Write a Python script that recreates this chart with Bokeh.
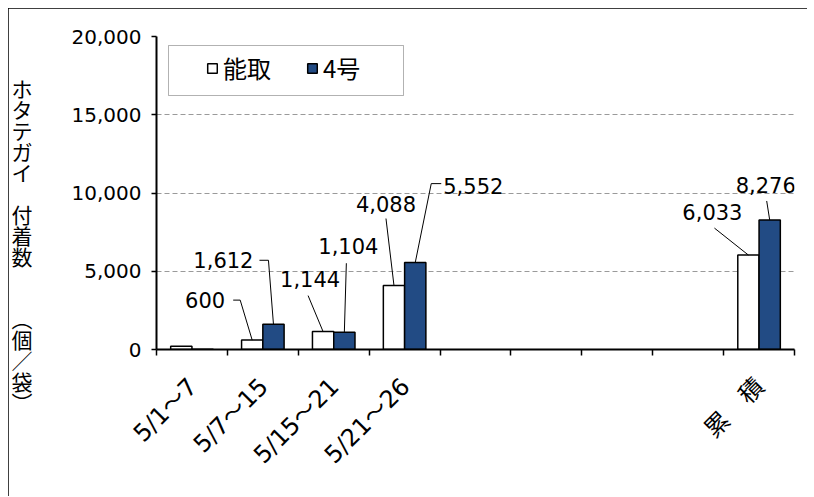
import math
import numpy as np
from bokeh.plotting import figure
from bokeh.models import (ColumnDataSource, FixedTicker, NumeralTickFormatter, Range1d,
                          Legend, LegendItem, BoxAnnotation)
from bokeh.core.properties import value
from bokeh.embed import file_html
from bokeh.resources import INLINE

# ---------------- data ----------------
categories = ["5/1～7", "5/7～15", "5/15～21", "5/21～26", "", "", "", "", "累　積"]
notori = [201, 600, 1144, 4088, None, None, None, None, 6033]   # 能取
gou4 = [8, 1612, 1104, 5552, None, None, None, None, 8276]      # 4号
series_names = ["能取", "4号"]
y_ticks = [0, 5000, 10000, 15000, 20000]
y_max = 20000
y_axis_title = ["ホ", "タ", "テ", "ガ", "イ", "　", "付", "着", "数", "　", "　", "︵", "個", "／", "袋", "︶"]

# ---------------- layout ----------------
FRAME_W, FRAME_H = 638, 313
N = len(categories)
PX_X = FRAME_W / N
PX_Y = FRAME_H / y_max
BAR_W = 0.3
NUM_FONT = "DejaVu Sans"
JP_FONT = "Noto Sans CJK JP"
BLUE = "#224B84"
TITLE_PAD_LINES = 5
XLABEL_SHIFT_PX = 1

# data-label placement (pixel offsets from bar top centre)
label_layout = {
    (0, 1): dict(dx=-27, dy=-40, align="right", leader=[(-19, -40), (-12, -40), (0, 0)]),
    (1, 1): dict(dx=-20, dy=-64, align="right", leader=[(-14, -64), (-5, -64), (0, 0)]),
    (0, 2): dict(dx=-13, dy=-53, align="center", leader=[(-15, -36), (0, 0)]),
    (1, 2): dict(dx=4, dy=-86, align="center", leader=[(2, -69), (0, 0)]),
    (0, 3): dict(dx=-8, dy=-82, align="center", leader=[(-8, -67), (0, 0)]),
    (1, 3): dict(dx=28, dy=-77, align="left", leader=[(26, -79), (16, -79), (0, 0)]),
    (0, 8): dict(dx=-36, dy=-43, align="center", leader=[(-34, -27), (0, 0)]),
    (1, 8): dict(dx=-4, dy=-35, align="center", leader=[(-3, -19), (0, 0)]),
}

p = figure(frame_width=FRAME_W, frame_height=FRAME_H,
           x_range=Range1d(0, N), y_range=Range1d(0, y_max),
           output_backend="svg", toolbar_location=None,
           min_border_left=147, min_border_right=13, min_border_top=28, min_border_bottom=148)
p.margin = (8, 0, 0, 8)
p.styles = {"outline": "1px solid #000", "outline-offset": "-1px", "clip-path": "inset(0 0 1px 0)"}
p.outline_line_color = None
p.background_fill_color = "white"
p.border_fill_color = "white"

centers = np.arange(N) + 0.5
series = [notori, gou4]
fills = ["white", BLUE]
offsets = [-BAR_W / 2, BAR_W / 2]

renderers = []
for s, vals in enumerate(series):
    idx = [i for i, v in enumerate(vals) if v is not None]
    src = ColumnDataSource(dict(x=[centers[i] + offsets[s] for i in idx],
                                top=[vals[i] for i in idx]))
    r = p.vbar(x="x", top="top", bottom=0, width=BAR_W, source=src,
               fill_color=fills[s], line_color="black", line_width=1.5)
    renderers.append(r)

# data labels + leader lines
tx, ty, tt, txo, tyo, tal = [], [], [], [], [], []
lxs, lys = [], []
for (s, i), lay in label_layout.items():
    v = series[s][i]
    bx = centers[i] + offsets[s]
    tx.append(bx); ty.append(v); tt.append(f"{v:,}")
    txo.append(lay["dx"]); tyo.append(lay["dy"]); tal.append(lay["align"])
    lxs.append([bx + ox / PX_X for ox, oy in lay["leader"]])
    lys.append([v - oy / PX_Y for ox, oy in lay["leader"]])

p.multi_line(xs=lxs, ys=lys, line_color="black", line_width=1)
tsrc = ColumnDataSource(dict(x=tx, y=ty, text=tt, xo=txo, yo=tyo, align=tal))
p.text(x="x", y="y", text="text", x_offset="xo", y_offset="yo", text_align="align",
       text_baseline="middle", source=tsrc, text_font=value(NUM_FONT),
       text_font_size="21px", text_color="black")

# axes
label_anchor = centers + XLABEL_SHIFT_PX / PX_X
xa = p.xaxis[0]
xa.ticker = FixedTicker(ticks=list(label_anchor), minor_ticks=list(range(N + 1)))
xa.major_label_overrides = {float(c): lab for c, lab in zip(label_anchor, categories)}
xa.major_tick_out = 0
xa.major_tick_in = 0
xa.minor_tick_out = 6
xa.minor_tick_in = 0
xa.minor_tick_line_color = "black"
xa.minor_tick_line_width = 1.5
xa.axis_line_color = "black"
xa.axis_line_width = 2
xa.major_label_orientation = math.pi / 4
xa.major_label_standoff = 27
xa.major_label_text_font = "DejaVu Sans, Noto Sans CJK JP"
xa.major_label_text_font_size = "24px"
xa.major_label_text_color = "black"

ya = p.yaxis[0]
ya.ticker = FixedTicker(ticks=y_ticks)
ya.formatter = NumeralTickFormatter(format="0,0")
ya.major_tick_out = 5
ya.major_tick_in = 0
ya.major_tick_line_color = "black"
ya.major_tick_line_width = 1.5
ya.minor_tick_out = 0
ya.minor_tick_in = 0
ya.axis_line_color = "black"
ya.axis_line_width = 2
ya.major_label_standoff = 10
ya.major_label_text_font = NUM_FONT
ya.major_label_text_font_size = "20px"
ya.major_label_text_color = "black"

# vertical (upright) axis title
ya.axis_label = "\n".join(["　"] * TITLE_PAD_LINES + y_axis_title)
ya.axis_label_orientation = "horizontal"
ya.axis_label_standoff = 36
ya.axis_label_text_font = JP_FONT
ya.axis_label_text_font_size = "21px"
ya.axis_label_text_font_style = "normal"
ya.axis_label_text_line_height = 0.697
ya.axis_label_text_align = "center"
ya.axis_label_text_color = "black"

p.xgrid.visible = False
p.ygrid.grid_line_color = "#9a9a9a"
p.ygrid.grid_line_dash = "5 3"
p.ygrid.grid_line_width = 1

# legend
box = BoxAnnotation(left=12, right=247, top=304, bottom=254,
                    left_units="screen", right_units="screen", top_units="screen", bottom_units="screen",
                    fill_color="white", fill_alpha=1, line_color="black", line_width=1)
p.add_layout(box)
legend = Legend(items=[LegendItem(label=series_names[k], renderers=[renderers[k]]) for k in range(2)],
                orientation="horizontal", location=(50, 264), padding=0, margin=0,
                spacing=35, label_standoff=5, glyph_width=12, glyph_height=12,
                border_line_alpha=0, background_fill_alpha=0,
                label_text_font=JP_FONT, label_text_font_size="24px", label_text_color="black")
p.add_layout(legend)

open("out.html", "w").write(file_html(p, INLINE))
